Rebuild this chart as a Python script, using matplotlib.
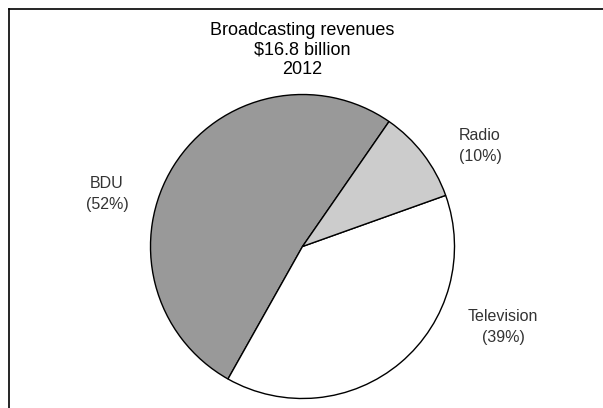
import matplotlib.pyplot as plt
from matplotlib.lines import Line2D

# revenue shares, 2012
labels = ["BDU", "Television", "Radio"]
shares = [52, 39, 10]
colors = ["#999999", "#ffffff", "#cccccc"]

fig = plt.figure(figsize=(6.03, 4.08), dpi=100)
plt.rcParams['font.family'] = ['Liberation Sans', 'DejaVu Sans']

# pie centred at (302.5, 246.5) px from top-left, radius 152 px
ax = fig.add_axes([(302.5 - 152) / 603, (161.5 - 152) / 408, 304 / 603, 304 / 408])
ax.pie(shares, colors=colors, startangle=55.3, counterclock=True,
       wedgeprops=dict(edgecolor="black", linewidth=1.0))
ax.set_xlim(-1, 1)
ax.set_ylim(-1, 1)
ax.set_aspect("equal")
ax.axis("off")

# label spots in pie units
label_pos = {"BDU": (-1.286, 0.345), "Television": (1.319, -0.530), "Radio": (1.168, 0.661)}
for name, val in zip(labels, shares):
    x, y = label_pos[name]
    ax.text(x, y, f"{name}\n({val}%)", ha="center", va="center", fontsize=11.5,
            color="#333333", linespacing=1.55, clip_on=False)

fig.text(302.5 / 603, 1 - 50 / 408, "Broadcasting revenues\n$16.8 billion\n2012",
         ha="center", va="center", fontsize=13, linespacing=1.18)

# frame on the left and top
fig.add_artist(Line2D([8.5 / 603, 8.5 / 603], [0, 1 - 9 / 408], color="black", lw=1.2))
fig.add_artist(Line2D([8.5 / 603, 1], [1 - 9 / 408, 1 - 9 / 408], color="black", lw=1.2))

fig.savefig("out.png", dpi=100)
